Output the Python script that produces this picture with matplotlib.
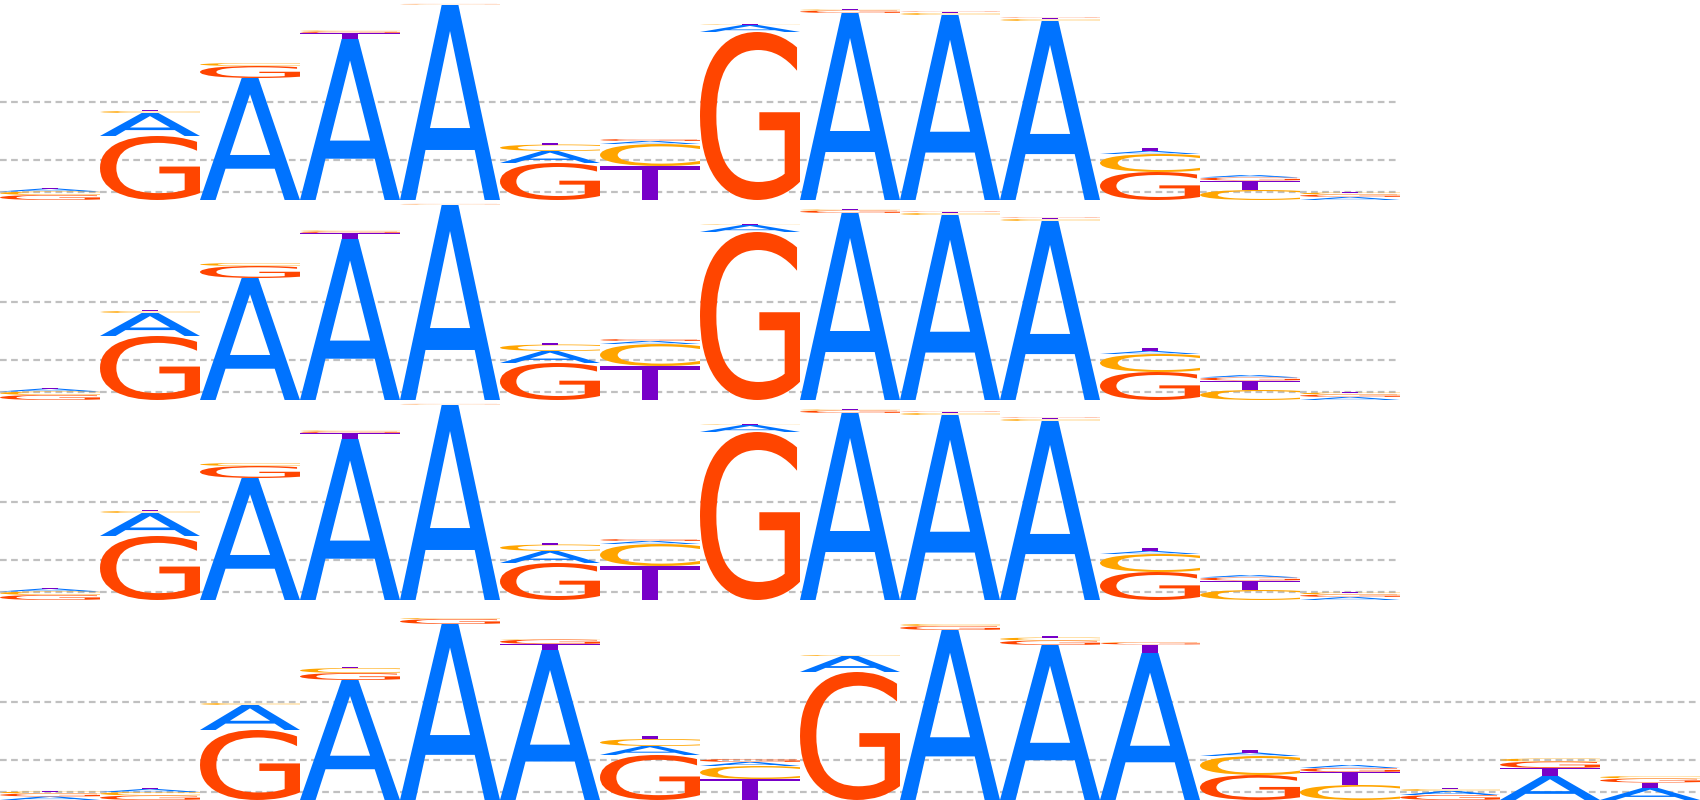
import matplotlib
matplotlib.use("Agg")
import matplotlib.pyplot as plt
from matplotlib.textpath import TextPath
from matplotlib.font_manager import FontProperties
from matplotlib.patches import PathPatch
from matplotlib.transforms import Affine2D

bases = ["A", "C", "G", "T"]
colors = {"A": "#0073ff", "C": "#ffa500", "G": "#ff4500", "T": "#7800c8"}

# motif shown in the three upper rows (14 positions)
top_A = [0.03, 0.23, 1.22, 1.61, 1.95, 0.12, 0.03, 0.07, 1.87, 1.85, 1.79, 0.03, 0.025, 0.03]
top_C = [0.035, 0.02, 0.03, 0.01, 0.003, 0.065, 0.22, 0.005, 0.01, 0.02, 0.02, 0.18, 0.10, 0.02]
top_G = [0.05, 0.64, 0.12, 0.015, 0.003, 0.37, 0.02, 1.68, 0.025, 0.005, 0.005, 0.28, 0.03, 0.025]
top_T = [0.01, 0.01, 0.005, 0.06, 0.005, 0.013, 0.34, 0.003, 0.003, 0.01, 0.015, 0.03, 0.095, 0.005]

# motif shown in the bottom row (17 positions)
bot_A = [0.035, 0.03, 0.25, 1.20, 1.76, 1.50, 0.09, 0.04, 0.16, 1.70, 1.55, 1.47, 0.035, 0.03, 0.04, 0.24, 0.12]
bot_C = [0.02, 0.035, 0.02, 0.05, 0.01, 0.005, 0.07, 0.13, 0.01, 0.02, 0.03, 0.005, 0.19, 0.15, 0.02, 0.03, 0.025]
bot_G = [0.03, 0.045, 0.70, 0.07, 0.05, 0.045, 0.45, 0.03, 1.28, 0.04, 0.045, 0.02, 0.25, 0.04, 0.05, 0.065, 0.04]
bot_T = [0.01, 0.015, 0.005, 0.015, 0.003, 0.06, 0.03, 0.21, 0.003, 0.003, 0.02, 0.085, 0.025, 0.13, 0.01, 0.08, 0.055]

grid_levels = [0.08, 0.40, 0.98]

top_motif = {"A": top_A, "C": top_C, "G": top_G, "T": top_T}
bot_motif = {"A": bot_A, "C": bot_C, "G": bot_G, "T": bot_T}
rows = [top_motif, top_motif, top_motif, bot_motif]

fp = FontProperties(family="DejaVu Sans", weight="normal")
glyphs = {b: TextPath((0, 0), b, size=1, prop=fp) for b in bases}


def draw_letter(ax, letter, x, y, h):
    tp = glyphs[letter]
    bb = tp.get_extents()
    t = Affine2D().translate(-bb.x0, -bb.y0).scale(1.0 / bb.width, h / bb.height).translate(x, y)
    ax.add_patch(PathPatch(t.transform_path(tp), fc=colors[letter], ec="none", lw=0, zorder=3))


fig = plt.figure(figsize=(17, 8), dpi=100)
ncols = max(len(m["A"]) for m in rows)

for r, motif in enumerate(rows):
    ax = fig.add_axes([0, 1 - (r + 1) * 0.25, 1, 0.25])
    n = len(motif["A"])
    ax.hlines(grid_levels, 0, n, colors="#c0c0c0", linestyles=(0, (3, 2)), lw=1.6, zorder=1)
    for i in range(n):
        # biggest letter at the bottom of the stack
        stack = sorted(bases, key=lambda b: -motif[b][i])
        y = 0.0
        for b in stack:
            h = motif[b][i]
            draw_letter(ax, b, i, y, h)
            y += h
    ax.set_xlim(0, ncols)
    ax.set_ylim(0, 2)
    ax.set_axis_off()

fig.savefig("out.png", dpi=100)
